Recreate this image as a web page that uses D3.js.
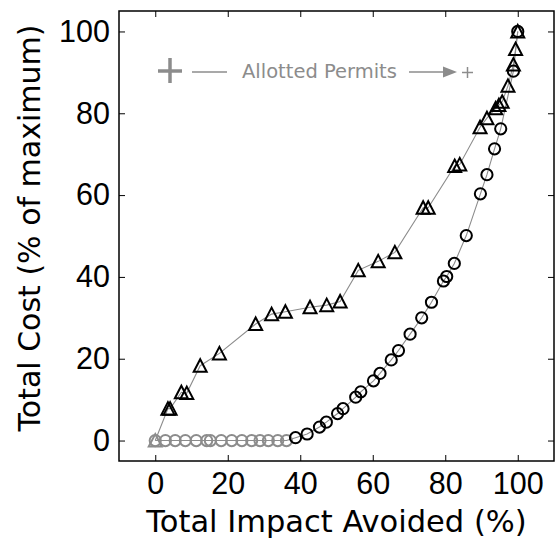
<!DOCTYPE html>
<html>
<head>
<meta charset="utf-8">
<script src="https://cdn.jsdelivr.net/npm/d3@7"></script>
<style>
  body { margin: 0; background: #fff; }
  svg { display: block; font-family: "DejaVu Sans", sans-serif; }
</style>
</head>
<body>
<div id="chart"></div>
<script>
// triangles: permits allotted case
var triX = [0, 3.5, 4.1, 7.2, 8.7, 12.4, 17.7, 27.7, 32.1, 35.9, 42.7, 47.3, 51.0, 56.0, 61.5, 66.1, 73.9, 75.3, 82.6, 84.0, 89.6, 91.5, 93.9, 94.8, 95.7, 97.3, 98.8, 99.4, 100];
var triY = [0, 7.8, 7.8, 11.8, 11.6, 18.3, 21.3, 28.5, 30.9, 31.5, 32.6, 33.1, 34.0, 41.6, 43.8, 46.0, 56.9, 56.9, 67.1, 67.5, 76.6, 78.8, 81.2, 82.0, 82.8, 86.7, 91.9, 95.7, 100];
// circles
var circX = [0, 2.8, 5.5, 8.3, 11.3, 14.2, 15.2, 18.2, 21.1, 23.9, 26.6, 28.9, 31.2, 33.8, 36.2,
             38.7, 41.9, 45.3, 47.2, 50.3, 51.8, 55.3, 56.7, 60.2, 62.0, 65.1, 67.1, 70.3, 73.5, 76.2,
             79.5, 80.4, 82.5, 85.8, 89.7, 91.5, 93.6, 95.3, 98.8, 100];
var circY = [0, 0, 0, 0, 0, 0, 0, 0, 0, 0, 0, 0, 0, 0, 0,
             0.7, 1.6, 3.3, 4.5, 6.6, 7.8, 10.6, 11.9, 14.6, 16.4, 19.7, 22.0, 26.0, 30.0, 33.8,
             39.0, 40.1, 43.3, 50.1, 60.3, 65.0, 71.3, 76.2, 90.3, 100];
var xTicks = [0, 20, 40, 60, 80, 100];
var yTicks = [0, 20, 40, 60, 80, 100];

var margin = {top: 11, right: 1, bottom: 78, left: 119},
    width = 555 - margin.left - margin.right,
    height = 539 - margin.top - margin.bottom;

var svg = d3.select("#chart")
            .append("svg")
            .attr("width", 555)
            .attr("height", 539)
            .append("g")
            .attr("transform", "translate(" + margin.left + "," + margin.top + ")");

var xScale = d3.scaleLinear().domain([-10, 110]).range([0, width]);
var yScale = d3.scaleLinear().domain([-5, 105]).range([height, 0]);

// axes, ticks pointing inward on all four sides
function styleAxis(g) {
    g.select(".domain").remove();
    g.selectAll(".tick line").attr("stroke", "#000").attr("stroke-width", 1);
    g.selectAll(".tick text").attr("fill", "#000").style("font-size", "30.5px");
}
svg.append("g")
   .attr("transform", "translate(0," + height + ")")
   .call(d3.axisBottom(xScale).tickValues(xTicks).tickSizeInner(-6).tickSizeOuter(0).tickPadding(11))
   .call(styleAxis);
svg.append("g")
   .call(d3.axisTop(xScale).tickValues(xTicks).tickSizeInner(-6).tickSizeOuter(0).tickFormat(""))
   .call(styleAxis);
svg.append("g")
   .call(d3.axisLeft(yScale).tickValues(yTicks).tickSizeInner(-6).tickSizeOuter(0).tickPadding(9))
   .call(styleAxis);
svg.append("g")
   .attr("transform", "translate(" + width + ",0)")
   .call(d3.axisRight(yScale).tickValues(yTicks).tickSizeInner(-6).tickSizeOuter(0).tickFormat(""))
   .call(styleAxis);

svg.append("rect")
   .attr("width", width)
   .attr("height", height)
   .attr("fill", "none")
   .attr("stroke", "#000")
   .attr("stroke-width", 1.5);

// lines
var triData = triX.map((d, i) => [d, triY[i]]);
var circData = circX.map((d, i) => [d, circY[i]]);
var line = d3.line().x(d => xScale(d[0])).y(d => yScale(d[1]));

svg.append("path").datum(circData)
   .attr("fill", "none").attr("stroke", "#8c8c8c").attr("stroke-width", 1.1)
   .attr("d", line);
svg.append("path").datum(triData)
   .attr("fill", "none").attr("stroke", "#8c8c8c").attr("stroke-width", 1.1)
   .attr("d", line);

// markers: zero-cost points drawn in gray
var markColor = d => d[1] == 0 ? "#8c8c8c" : "#000";

svg.append("g")
   .selectAll("circle")
   .data(circData)
   .enter()
   .append("circle")
   .attr("cx", d => xScale(d[0]))
   .attr("cy", d => yScale(d[1]))
   .attr("r", 5.6)
   .attr("fill", "none")
   .attr("stroke", markColor)
   .attr("stroke-width", 2);

svg.append("g")
   .selectAll("path")
   .data(triData)
   .enter()
   .append("path")
   .attr("d", "M0,-6.5L6.5,6L-6.5,6Z")
   .attr("transform", d => "translate(" + xScale(d[0]) + "," + yScale(d[1]) + ")")
   .attr("fill", "none")
   .attr("stroke", markColor)
   .attr("stroke-width", 2)
   .attr("stroke-linejoin", "miter");

// allotted permits annotation
var ann = svg.append("g").attr("transform", "translate(" + (-margin.left) + "," + (-margin.top) + ")");
var grey = "#8c8c8c";
ann.append("line").attr("x1", 158).attr("x2", 182).attr("y1", 71).attr("y2", 71)
   .attr("stroke", grey).attr("stroke-width", 3.5);
ann.append("line").attr("x1", 170).attr("x2", 170).attr("y1", 58).attr("y2", 83)
   .attr("stroke", grey).attr("stroke-width", 3.5);
ann.append("line").attr("x1", 192).attr("x2", 227).attr("y1", 72).attr("y2", 72)
   .attr("stroke", grey).attr("stroke-width", 1.5);
ann.append("text").attr("x", 242).attr("y", 78)
   .attr("fill", grey).style("font-size", "19.5px")
   .text("Allotted Permits");
ann.append("line").attr("x1", 409).attr("x2", 446).attr("y1", 72).attr("y2", 72)
   .attr("stroke", grey).attr("stroke-width", 1.5);
ann.append("path").attr("d", "M443,66.5L457,72L443,77.5Z").attr("fill", grey);
ann.append("line").attr("x1", 462).attr("x2", 473).attr("y1", 72.5).attr("y2", 72.5)
   .attr("stroke", grey).attr("stroke-width", 1.5);
ann.append("line").attr("x1", 467.5).attr("x2", 467.5).attr("y1", 67).attr("y2", 78)
   .attr("stroke", grey).attr("stroke-width", 1.5);

// axis labels
svg.append("text")
   .attr("x", width / 2)
   .attr("y", height + 71)
   .attr("text-anchor", "middle")
   .style("font-size", "30.5px")
   .text("Total Impact Avoided (%)");
svg.append("text")
   .attr("transform", "translate(" + (40 - margin.left) + "," + (228 - margin.top) + ") rotate(-90)")
   .attr("text-anchor", "middle")
   .style("font-size", "30px")
   .text("Total Cost (% of maximum)");
</script>
</body>
</html>
